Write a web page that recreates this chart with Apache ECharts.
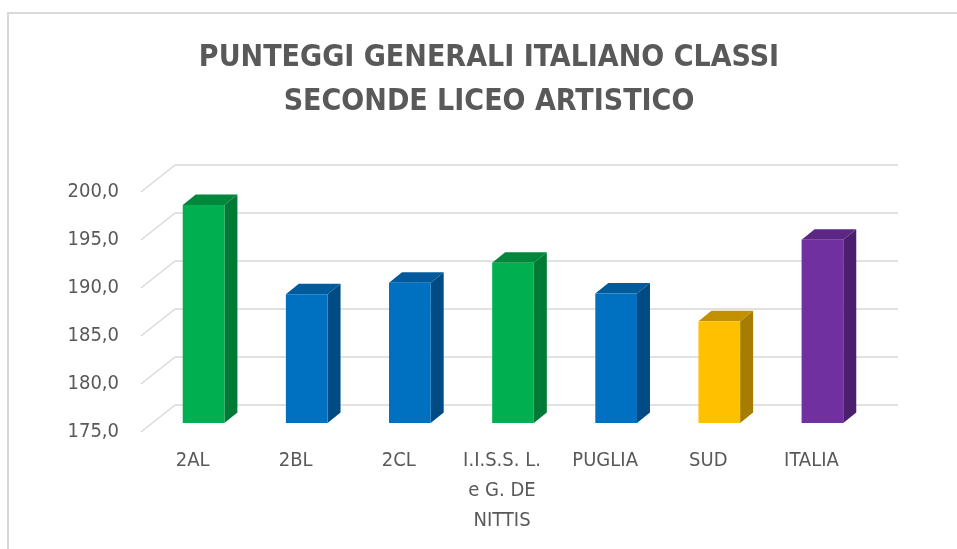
<!DOCTYPE html>
<html>
<head>
<meta charset="utf-8">
<script src="https://cdn.jsdelivr.net/npm/echarts@6/dist/echarts.min.js"></script>
<style>
  html, body { margin: 0; padding: 0; background: #fff; }
  #chart { width: 957px; height: 549px; }
</style>
</head>
<body>
<div id="chart"></div>
<script>
// dati
var categories = ['2AL', '2BL', '2CL', 'I.I.S.S. L.\ne G. DE\nNITTIS', 'PUGLIA', 'SUD', 'ITALIA'];
var values = [197.7, 188.4, 189.6, 191.7, 188.5, 185.6, 194.1];
var ticks = [175, 180, 185, 190, 195, 200];

// colori: fronte, lato, sopra
var faceColors = ['#00B050', '#0070C0', '#0070C0', '#00B050', '#0070C0', '#FFC000', '#7030A0'];
var sideColors = ['#007A35', '#004B84', '#004B84', '#007A35', '#004B84', '#A67D00', '#4A1F6E'];
var topColors  = ['#00873B', '#005A9B', '#005A9B', '#00873B', '#005A9B', '#C29000', '#5B2684'];

var FONT = '"Liberation Sans Narrow", "DejaVu Sans Condensed", "Liberation Sans", sans-serif';
var GRAY = '#595959';
var GRID_LINE = '#D9D9D9';
var DEPTH_X = 34, DEPTH_Y = 27;   // profondità della parete
var BAR_DX = 13, BAR_DY = 10.5;   // profondità della barra

var myChart = echarts.init(document.getElementById('chart'));

// barre 3d
function renderBar(params, api) {
    var i = api.value(0);
    var top = api.coord([i, api.value(1)]);
    var base = api.coord([i, 175]);
    var w = api.size([1, 0])[0] * 0.404;
    var x0 = top[0] - w / 2, x1 = top[0] + w / 2;
    var yt = top[1], yb = base[1];
    return {
        type: 'group',
        children: [
            {
                type: 'polygon',
                shape: {points: [[x1, yt], [x1 + BAR_DX, yt - BAR_DY], [x1 + BAR_DX, yb - BAR_DY], [x1, yb]]},
                style: {fill: sideColors[i]}
            },
            {
                type: 'polygon',
                shape: {points: [[x0, yt], [x0 + BAR_DX, yt - BAR_DY], [x1 + BAR_DX, yt - BAR_DY], [x1, yt]]},
                style: {fill: topColors[i]}
            },
            {
                type: 'rect',
                shape: {x: x0, y: yt, width: w, height: yb - yt},
                style: {fill: faceColors[i]}
            }
        ]
    };
}

// linee diagonali della parete sinistra
function renderDiag(params, api) {
    var cs = params.coordSys;
    var y = api.coord([0, api.value(0)])[1];
    return {
        type: 'line',
        shape: {x1: cs.x, y1: y, x2: cs.x + DEPTH_X, y2: y - DEPTH_Y},
        style: {stroke: GRID_LINE, lineWidth: 1.5}
    };
}

var option = {
    backgroundColor: '#fff',
    animation: false,
    title: {
        text: 'PUNTEGGI GENERALI ITALIANO CLASSI\nSECONDE LICEO ARTISTICO',
        left: 489,
        top: 36,
        padding: 0,
        textAlign: 'center',
        textStyle: {
            fontFamily: FONT,
            fontSize: 30,
            fontWeight: 'bold',
            color: GRAY,
            lineHeight: 44
        }
    },
    graphic: [{
        type: 'rect',
        shape: {x: 8, y: 13, width: 1000, height: 600},
        style: {fill: 'none', stroke: GRID_LINE, lineWidth: 2},
        silent: true
    }],
    grid: [
        // piano frontale: etichette
        {left: 141, top: 192, width: 722, height: 240},
        // parete di fondo
        {left: 175, top: 165, width: 723, height: 240},
        // barre
        {left: 152, top: 183, width: 722, height: 240}
    ],
    xAxis: [
        {
            gridIndex: 0, type: 'category', data: categories,
            axisLine: {show: false}, axisTick: {show: false},
            axisLabel: {
                interval: 0, margin: 14, color: GRAY, fontFamily: FONT,
                fontSize: 20, lineHeight: 30
            }
        },
        {gridIndex: 1, type: 'category', data: categories, show: false},
        {gridIndex: 2, type: 'category', data: categories, show: false}
    ],
    yAxis: [
        {
            gridIndex: 0, type: 'value', min: 175, max: 200, interval: 5,
            axisLine: {show: false}, axisTick: {show: false}, splitLine: {show: false},
            axisLabel: {
                margin: 22, color: GRAY, fontFamily: FONT, fontSize: 20,
                formatter: function (v) { return v.toFixed(1).replace('.', ','); }
            }
        },
        {
            gridIndex: 1, type: 'value', min: 175, max: 200, interval: 5,
            axisLine: {show: false}, axisTick: {show: false}, axisLabel: {show: false},
            splitLine: {show: true, lineStyle: {color: GRID_LINE, width: 1.5}}
        },
        {gridIndex: 2, type: 'value', min: 175, max: 200, interval: 5, show: false}
    ],
    series: [
        {
            type: 'custom',
            xAxisIndex: 0, yAxisIndex: 0,
            renderItem: renderDiag,
            data: ticks.map(function (t) { return [t]; }),
            silent: true
        },
        {
            type: 'custom',
            xAxisIndex: 2, yAxisIndex: 2,
            renderItem: renderBar,
            encode: {x: 0, y: 1},
            data: values.map(function (v, i) { return [i, v]; })
        }
    ]
};

myChart.setOption(option);
</script>
</body>
</html>
